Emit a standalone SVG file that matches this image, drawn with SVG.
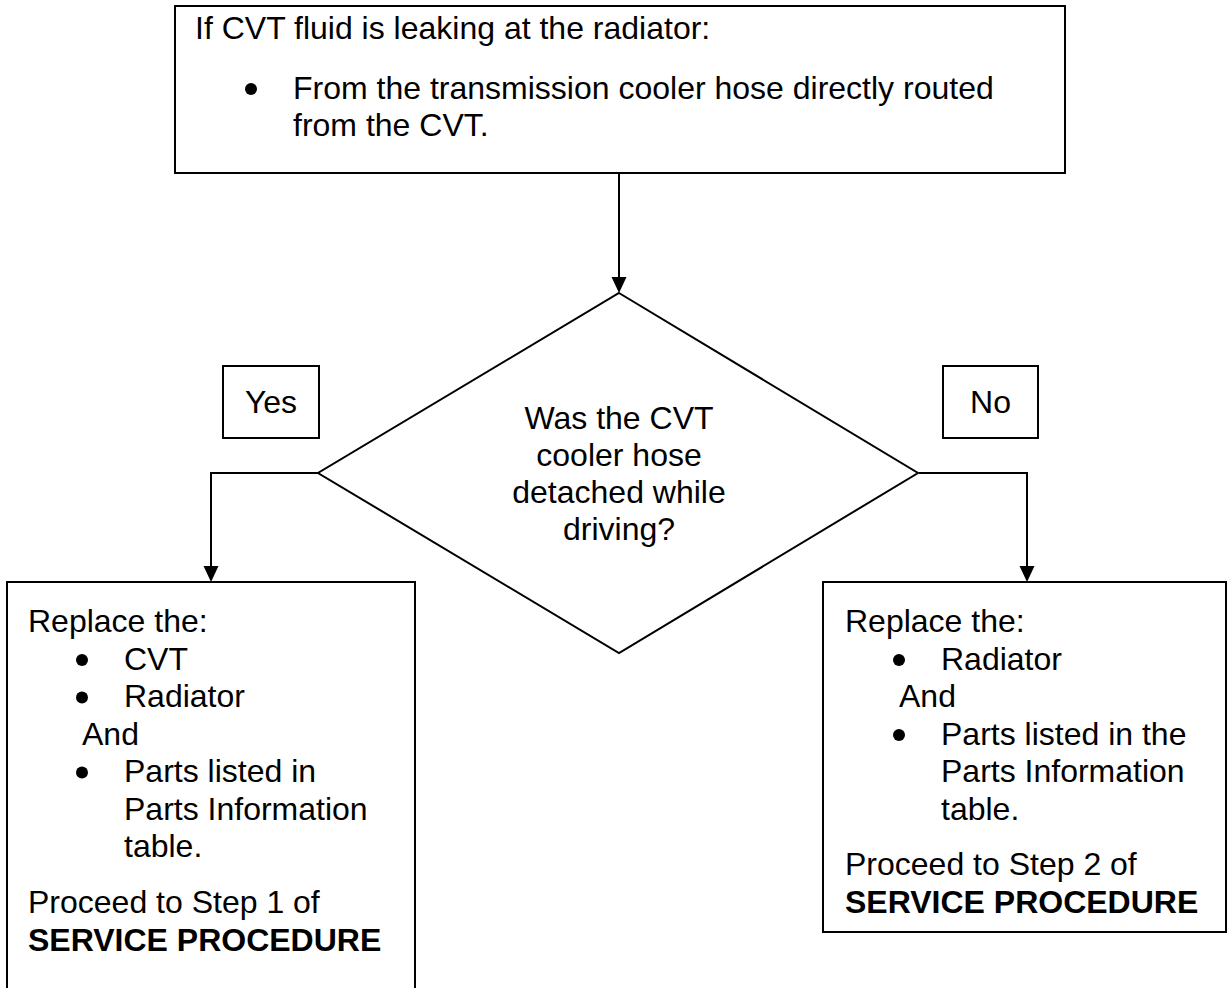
<svg xmlns="http://www.w3.org/2000/svg" width="1228" height="988" viewBox="0 0 1228 988">
<style>
.t{font-family:"Liberation Sans",Arial,sans-serif;font-size:32px;fill:#000}
.b{font-weight:bold}
.m{text-anchor:middle}
.shape{fill:#fff;stroke:#000;stroke-width:2}
.conn{fill:none;stroke:#000;stroke-width:2;marker-end:url(#arr)}
.dot{fill:#000}
</style>
<defs>
<marker id="arr" markerUnits="userSpaceOnUse" markerWidth="16" markerHeight="16" refX="8" refY="7.5" orient="auto">
<path d="M0,0 L16,7.5 L0,15 z" fill="#000"/>
</marker>
</defs>
<rect width="1228" height="988" fill="#fff"/>
<g id="connectors">
<path class="conn" d="M619,173 V285"/>
<path class="conn" d="M318,473 H211 V574"/>
<path class="conn" d="M919,473 H1027 V574"/>
</g>
<g id="start">
<rect class="shape" x="175" y="6" width="890" height="167"/>
<text class="t" x="195" y="39">If CVT fluid is leaking at the radiator:</text>
<circle class="dot" cx="251" cy="89" r="6"/>
<text class="t" x="293" y="99">From the transmission cooler hose directly routed</text>
<text class="t" x="293" y="136">from the CVT.</text>
</g>
<g id="decision">
<polygon class="shape" points="619,293 918,473 619,653 318,473"/>
<text class="t m" x="619" y="429">Was the CVT</text>
<text class="t m" x="619" y="466">cooler hose</text>
<text class="t m" x="619" y="503">detached while</text>
<text class="t m" x="619" y="540">driving?</text>
</g>
<g id="yes-label">
<rect class="shape" x="223" y="366" width="96" height="72"/>
<text class="t m" x="271" y="413">Yes</text>
</g>
<g id="no-label">
<rect class="shape" x="943" y="366" width="95" height="72"/>
<text class="t m" x="990.5" y="413">No</text>
</g>
<g id="yes-action">
<rect class="shape" x="7" y="582" width="408" height="420"/>
<text class="t" x="28" y="632">Replace the:</text>
<circle class="dot" cx="82" cy="660" r="6"/>
<text class="t" x="124" y="669.5">CVT</text>
<circle class="dot" cx="82" cy="697.5" r="6"/>
<text class="t" x="124" y="707">Radiator</text>
<text class="t" x="82" y="744.5">And</text>
<circle class="dot" cx="82" cy="772.5" r="6"/>
<text class="t" x="124" y="782">Parts listed in</text>
<text class="t" x="124" y="819.5">Parts Information</text>
<text class="t" x="124" y="857">table.</text>
<text class="t" x="28" y="913">Proceed to Step 1 of</text>
<text class="t b" x="28" y="950.5">SERVICE PROCEDURE</text>
</g>
<g id="no-action">
<rect class="shape" x="823" y="582" width="403" height="350"/>
<text class="t" x="845" y="632">Replace the:</text>
<circle class="dot" cx="899" cy="660" r="6"/>
<text class="t" x="941" y="669.5">Radiator</text>
<text class="t" x="899" y="707">And</text>
<circle class="dot" cx="899" cy="735" r="6"/>
<text class="t" x="941" y="744.5">Parts listed in the</text>
<text class="t" x="941" y="782">Parts Information</text>
<text class="t" x="941" y="819.5">table.</text>
<text class="t" x="845" y="875">Proceed to Step 2 of</text>
<text class="t b" x="845" y="912.5">SERVICE PROCEDURE</text>
</g>
</svg>
